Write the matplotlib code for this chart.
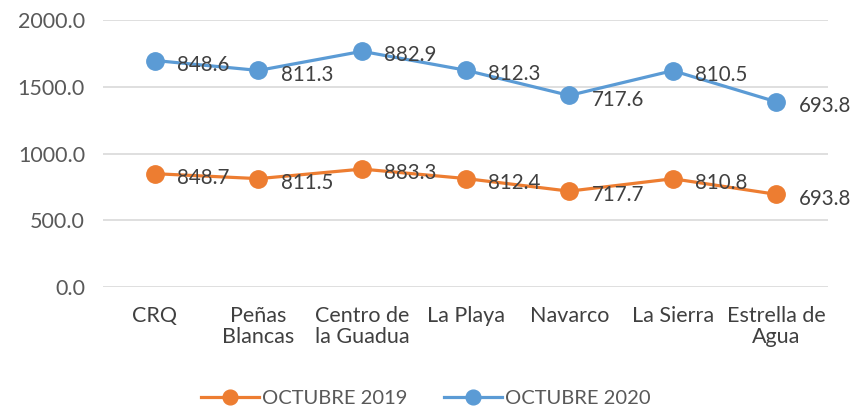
import matplotlib
matplotlib.use("Agg")
import matplotlib.pyplot as plt
import numpy as np

categories = ["CRQ", "Peñas\nBlancas", "Centro de\nla Guadua", "La Playa", "Navarco", "La Sierra", "Estrella de\nAgua"]
oct2019 = [848.7, 811.5, 883.3, 812.4, 717.7, 810.8, 693.8]
oct2020 = [848.6, 811.3, 882.9, 812.3, 717.6, 810.5, 693.8]
series_names = ["OCTUBRE 2019", "OCTUBRE 2020"]
yticks = [0, 500, 1000, 1500, 2000]

plt.rcParams['font.family'] = ['Lato', 'DejaVu Sans']
fig = plt.figure(figsize=(8.52, 4.11), dpi=100)
ax = fig.add_axes([0.121, 0.302, 0.851, 0.649])

x = np.arange(len(categories))
o19 = np.array(oct2019)
stack20 = o19 + np.array(oct2020)

orange = "#ED7D31"
blue = "#5B9BD5"
fs = 15.5
for vals, labs, col, name in [(o19, oct2019, orange, series_names[0]), (stack20, oct2020, blue, series_names[1])]:
    ax.plot(x, vals, color=col, lw=2.3, marker='o', markersize=12.5, label=name, zorder=3)
    for xi, yi, lab in zip(x, vals, labs):
        ax.annotate(f"{lab:.1f}", (xi, yi), xytext=(16, -3), textcoords='offset points',
                    ha='left', va='center', fontsize=14.8, color="#404040", zorder=4)

ax.set_xlim(-0.5, len(categories) - 0.5)
ax.set_ylim(0, 2000)
ax.set_yticks(yticks)
ax.set_yticklabels([f"{v:.1f}" for v in yticks], fontsize=fs, color="#595959")
ax.set_xticks(x)
ax.set_xticklabels(categories, fontsize=fs, color="#404040", linespacing=1.05, va='top')
ax.tick_params(length=0)
ax.tick_params(axis='x', pad=14)
ax.tick_params(axis='y', pad=13)
ax.grid(axis='y', color="#D9D9D9", lw=1.2)
ax.set_axisbelow(True)
for s in ax.spines.values():
    s.set_visible(False)

leg = fig.legend(loc='lower center', bbox_to_anchor=(0.5, -0.035), ncol=2, frameon=False,
                 fontsize=14.5, handlelength=2.9, columnspacing=1.8, handletextpad=0.15,
                 markerscale=0.85)
for t in leg.get_texts():
    t.set_color("#595959")

fig.savefig("out.png", dpi=100)
